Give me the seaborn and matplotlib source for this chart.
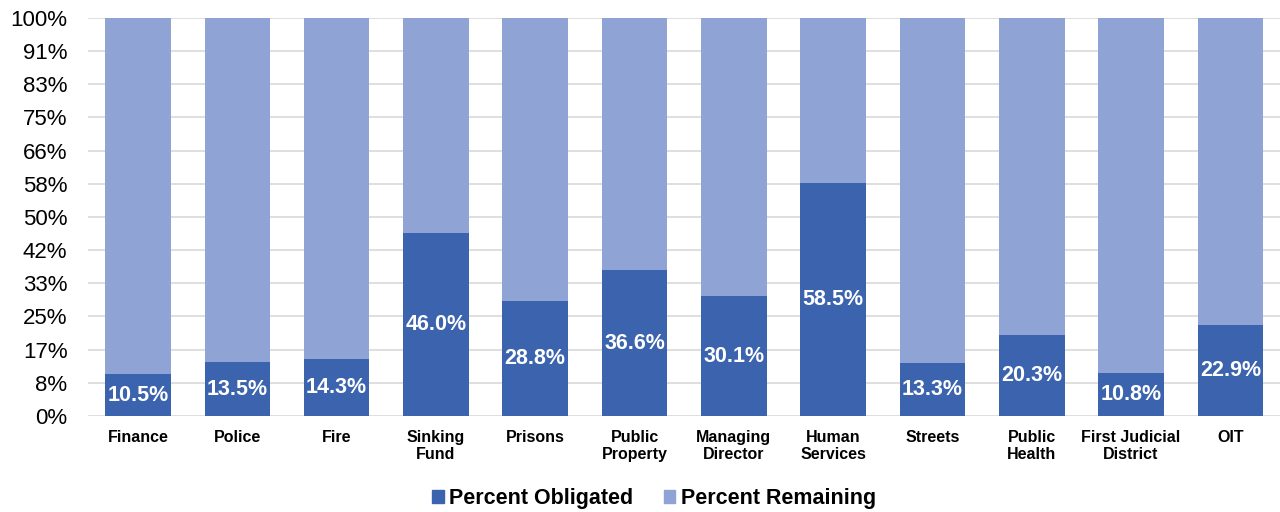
import pandas as pd
import matplotlib
matplotlib.use("Agg")
import matplotlib.pyplot as plt
import seaborn as sns
from matplotlib.patches import Patch

departments = ["Finance", "Police", "Fire", "Sinking\nFund", "Prisons",
               "Public\nProperty", "Managing\nDirector", "Human\nServices",
               "Streets", "Public\nHealth", "First Judicial\nDistrict", "OIT"]
obligated = [10.5, 13.5, 14.3, 46.0, 28.8, 36.6, 30.1, 58.5, 13.3, 20.3,
             10.8, 22.9]
tick_values = [0, 100 / 12, 200 / 12, 25, 400 / 12, 500 / 12, 50,
               700 / 12, 800 / 12, 75, 1000 / 12, 1100 / 12, 100]
tick_labels = ["0%", "8%", "17%", "25%", "33%", "42%", "50%", "58%", "66%",
               "75%", "83%", "91%", "100%"]

dark = "#3C64AE"
light = "#8FA3D4"

df = pd.DataFrame({"department": departments, "obligated": obligated})
df["total"] = 100.0

sns.set_style("white")
plt.rcParams['font.family'] = ['Liberation Sans', 'DejaVu Sans']
plt.rcParams['text.color'] = 'black'
plt.rcParams['xtick.color'] = 'black'
plt.rcParams['ytick.color'] = 'black'

fig = plt.figure(figsize=(12.8, 5.12), dpi=100)
ax = fig.add_axes([0.069, 0.1875, 0.931, 0.7775])

# full bar = remaining part, obligated drawn on top
sns.barplot(data=df, x="department", y="total", color=light, width=0.66,
            saturation=1, linewidth=0, ax=ax, zorder=2)
sns.barplot(data=df, x="department", y="obligated", color=dark, width=0.66,
            saturation=1, linewidth=0, ax=ax, zorder=3)

for i, v in enumerate(obligated):
    ax.text(i, v / 2, "{:.1f}%".format(v), ha="center", va="center",
            color="white", fontsize=15.5, fontweight="bold", zorder=4)

ax.set_ylim(0, 100)
ax.set_xlim(-0.5, len(departments) - 0.5)
ax.set_yticks(tick_values)
ax.set_yticklabels(tick_labels, fontsize=16)
ax.tick_params(axis="x", labelsize=11.5, length=0, pad=10)
ax.tick_params(axis="y", length=0, pad=15)
for lab in ax.get_xticklabels():
    lab.set_fontweight("bold")
ax.set_xlabel("")
ax.set_ylabel("")
ax.grid(axis="y", color="#D9D9D9", linewidth=1.2, zorder=0)
ax.set_axisbelow(True)
for s in ax.spines.values():
    s.set_visible(False)

handles = [Patch(color=dark, label="Percent Obligated"),
           Patch(color=light, label="Percent Remaining")]
fig.legend(handles=handles, loc="center", bbox_to_anchor=(0.511, 0.027),
           ncol=2, frameon=False, prop={"size": 15.5, "weight": "bold"},
           handlelength=0.55, handleheight=0.55, handletextpad=0.25,
           columnspacing=1.4)

fig.savefig("out.png", dpi=100)
